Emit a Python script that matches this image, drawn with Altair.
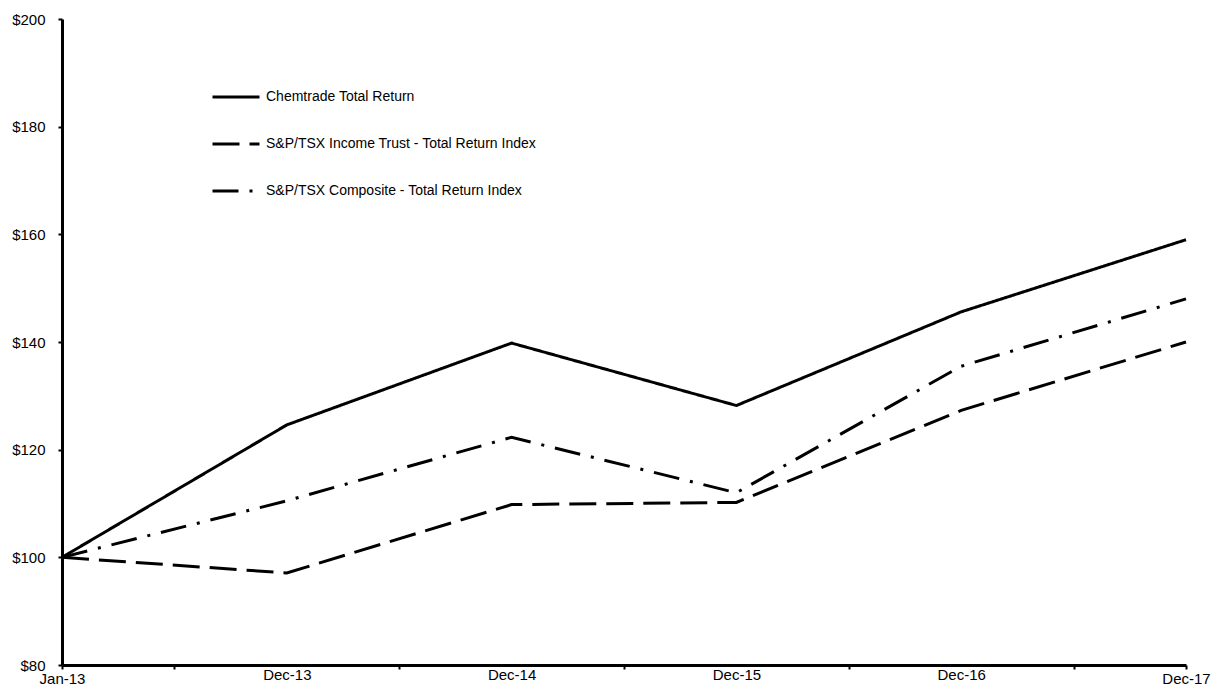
import altair as alt
import pandas as pd

categories = ["Jan-13", "Dec-13", "Dec-14", "Dec-15", "Dec-16", "Dec-17"]
series_names = [
    "Chemtrade Total Return",
    "S&P/TSX Income Trust - Total Return Index",
    "S&P/TSX Composite - Total Return Index",
]
chemtrade = [100, 124.6, 139.8, 128.2, 145.6, 159.0]
income_trust = [100, 97.1, 109.8, 110.2, 127.3, 140.0]
composite = [100, 110.5, 122.3, 112.0, 135.5, 148.0]

rows = []
for name, vals in zip(series_names, [chemtrade, income_trust, composite]):
    for i, (c, v) in enumerate(zip(categories, vals)):
        rows.append({"series": name, "period": c, "idx": i, "value": v})
df = pd.DataFrame(rows)

FONT = "Liberation Sans"
cat_js = "[" + ",".join("'" + c + "'" for c in categories) + "]"
n = len(categories) - 1
x_values = [i / 2 for i in range(0, 2 * n + 1)]

x_axis = alt.Axis(
    values=x_values,
    labelExpr="datum.value % 1 == 0 ? " + cat_js + "[datum.value] : ''",
    grid=False,
    domainColor="black",
    domainWidth=3,
    tickColor="black",
    tickWidth=2,
    tickSize={"condition": {"test": "datum.value % 1 != 0 || datum.value == 0 || datum.value == " + str(n), "value": 4}, "value": 0},
    labelFont=FONT,
    labelFontSize=15,
    labelColor="black",
    labelPadding=2,
    labelAngle=0,
    labelFlush=False,
    labelOverlap=False,
    title=None,
)

y_axis = alt.Axis(
    values=[80, 100, 120, 140, 160, 180, 200],
    labelExpr="'$' + datum.value",
    grid=False,
    domainColor="black",
    domainWidth=3,
    tickColor="black",
    tickWidth=2,
    tickSize=4,
    labelFont=FONT,
    labelFontSize=15,
    labelColor="black",
    labelPadding=13,
    title=None,
)

chart = (
    alt.Chart(df)
    .mark_line(strokeWidth=3, color="black", strokeCap="butt", strokeJoin="miter")
    .encode(
        x=alt.X("idx:Q", scale=alt.Scale(domain=[0, n], nice=False, zero=False), axis=x_axis),
        y=alt.Y("value:Q", scale=alt.Scale(domain=[80, 200], nice=False, zero=False), axis=y_axis),
        strokeDash=alt.StrokeDash(
            "series:N",
            scale=alt.Scale(domain=series_names, range=[[1, 0], [27, 10], [26, 11, 3, 11]]),
            legend=alt.Legend(
                title=None,
                orient="none",
                legendX=149,
                legendY=53,
                symbolType="stroke",
                symbolSize=2209,
                symbolStrokeWidth=3,
                symbolStrokeColor="black",
                labelFont=FONT,
                labelFontSize=14,
                labelColor="black",
                labelOffset=5,
                rowPadding=15,
                labelLimit=600,
            ),
        ),
        detail="series:N",
    )
    .properties(
        width=1124,
        height=646,
        autosize=alt.AutoSizeParams(type="none"),
        padding={"left": 54, "top": 11, "right": 25, "bottom": 23},
        background="white",
    )
    .configure_view(strokeWidth=0, stroke="transparent")
)

chart.save("out.html", embed_options={"renderer": "svg", "actions": False})
